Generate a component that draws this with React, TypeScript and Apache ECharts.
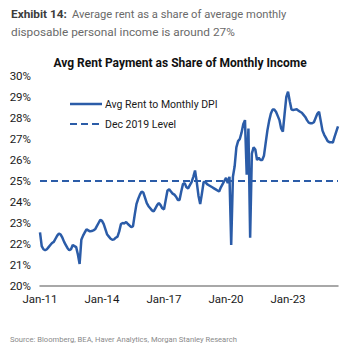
import React, { useEffect, useRef } from "react";
import * as echarts from "echarts";

// Monthly values, Jan-2011 .. Jun-2025 (percent)
const rentToDpi: number[] = [
  // 2011
  22.55, 21.9, 21.75, 21.7, 21.75, 21.85, 21.95, 22.05, 22.1, 22.25, 22.4, 22.5,
  // 2012
  22.45, 22.3, 22.1, 21.95, 21.8, 21.7, 21.75, 21.95, 21.9, 21.85, 21.5, 21.05,
  // 2013
  22.2, 22.4, 22.55, 22.7, 22.65, 22.6, 22.62, 22.65, 22.7, 22.85, 23.0, 23.15,
  // 2014
  23.1, 22.95, 22.7, 22.45, 22.35, 22.25, 22.2, 22.22, 22.3, 22.35, 22.6, 22.95,
  // 2015
  23.0, 22.98, 23.05, 22.95, 22.88, 22.8, 22.85, 23.4, 23.9, 24.15, 24.35, 24.5,
  // 2016
  24.45, 24.2, 23.95, 23.8, 23.7, 23.6, 23.55, 23.7, 23.85, 23.95, 23.85, 23.7,
  // 2017
  23.65, 24.1, 24.55, 24.6, 24.5, 24.4, 24.35, 24.25, 24.1, 24.1, 24.5, 24.85,
  // 2018
  24.9, 24.7, 24.65, 24.8, 24.95, 25.2, 25.5, 24.95, 24.3, 23.9, 24.4, 24.95,
  // 2019
  24.95, 24.85, 24.8, 24.75, 24.7, 24.65, 24.6, 24.55, 24.5, 24.7, 24.85, 25.0,
  // 2020
  25.15, 24.9, 25.2, 21.95, 25.2, 25.7, 26.6, 26.9, 27.0, 27.3, 27.7, 27.9,
  // 2021
  25.3, 27.5, 22.3, 26.3, 26.6, 26.5, 26.0, 26.1, 26.0, 26.0, 26.2, 26.8,
  // 2022
  27.4, 27.85, 28.2, 28.4, 28.4, 28.3, 28.1, 27.9, 27.5, 27.35, 28.2, 29.0,
  // 2023
  29.25, 28.8, 28.4, 28.38, 28.4, 28.42, 28.35, 28.3, 28.25, 28.15, 28.05, 27.9,
  // 2024
  27.78, 27.75, 27.75, 27.8, 28.0, 28.2, 28.3, 27.85, 27.4, 27.2, 27.05, 26.9,
  // 2025
  26.85, 26.85, 26.83, 27.1, 27.35, 27.6,
];

const dec2019Level = 25.0;
const startYear = 2011;
const monthNames = ["Jan", "Feb", "Mar", "Apr", "May", "Jun", "Jul", "Aug", "Sep", "Oct", "Nov", "Dec"];
const months: string[] = rentToDpi.map((_, i) => {
  const y = startYear + Math.floor(i / 12);
  return `${monthNames[i % 12]}-${String(y).slice(2)}`;
});
const tickEvery = 36;
const seriesNames = ["Avg Rent to Monthly DPI", "Dec 2019 Level"];

const BLUE = "#2b5ca8";
const FONT = "Roboto, sans-serif";

export default function App() {
  const ref = useRef<HTMLDivElement>(null);
  useEffect(() => {
    if (!ref.current) return;
    const chart = echarts.init(ref.current, undefined, { renderer: "svg" });
    chart.setOption({
      animation: false,
      backgroundColor: "#ffffff",
      grid: { left: 40, right: 14, top: 76, bottom: 68, containLabel: false },
      xAxis: {
        type: "category",
        data: months,
        boundaryGap: false,
        axisLine: { lineStyle: { color: "#8c8c8c", width: 1.5 } },
        axisTick: { show: false },
        axisLabel: {
          interval: (i: number) => i % tickEvery === 0,
          color: "#1a1a1a",
          fontSize: 11.5,
          fontFamily: FONT,
          margin: 7,
        },
        splitLine: { show: false },
      },
      yAxis: {
        type: "value",
        min: 20,
        max: 30,
        interval: 1,
        axisLine: { show: false },
        axisTick: { show: false },
        splitLine: { show: false },
        axisLabel: {
          formatter: "{value}%",
          color: "#1a1a1a",
          fontSize: 11.5,
          fontFamily: FONT,
          margin: 9,
        },
      },
      series: [
        {
          name: seriesNames[0],
          type: "line",
          data: rentToDpi,
          showSymbol: false,
          symbol: "none",
          lineStyle: { color: BLUE, width: 2.5 },
          z: 3,
        },
        {
          name: seriesNames[1],
          type: "line",
          data: rentToDpi.map(() => dec2019Level),
          showSymbol: false,
          symbol: "none",
          lineStyle: { color: BLUE, width: 2, type: [7, 4] },
          z: 2,
        },
      ],
      graphic: [
        {
          type: "text",
          x: 11,
          y: 14,
          style: {
            text: "Exhibit 14:",
            fontWeight: "bold",
            fill: "#3c3c3c",
            fontSize: 11.8,
            fontFamily: FONT,
            verticalAlign: "middle",
          },
        },
        {
          type: "text",
          x: 72,
          y: 14,
          style: {
            text: "Average rent as a share of average monthly",
            fill: "#6a6a6a",
            fontSize: 11.2,
            fontFamily: FONT,
            verticalAlign: "middle",
          },
        },
        {
          type: "text",
          x: 11,
          y: 32,
          style: {
            text: "disposable personal income is around 27%",
            fill: "#6a6a6a",
            fontSize: 11.8,
            fontFamily: FONT,
            verticalAlign: "middle",
          },
        },
        {
          type: "text",
          x: 180,
          y: 63,
          style: {
            text: "Avg Rent Payment as Share of Monthly Income",
            fontWeight: "bold",
            fontSize: 12,
            fill: "#111",
            fontFamily: FONT,
            align: "center",
            verticalAlign: "middle",
          },
        },
        {
          type: "line",
          shape: { x1: 70, y1: 104, x2: 102, y2: 104 },
          style: { stroke: BLUE, lineWidth: 2.5 },
        },
        {
          type: "text",
          x: 105,
          y: 104,
          style: {
            text: seriesNames[0],
            fontSize: 10.5,
            fill: "#1a1a1a",
            fontFamily: FONT,
            verticalAlign: "middle",
          },
        },
        {
          type: "line",
          shape: { x1: 70, y1: 124, x2: 102, y2: 124 },
          style: { stroke: BLUE, lineWidth: 2, lineDash: [7, 4] },
        },
        {
          type: "text",
          x: 105,
          y: 124,
          style: {
            text: seriesNames[1],
            fontSize: 10.5,
            fill: "#1a1a1a",
            fontFamily: FONT,
            verticalAlign: "middle",
          },
        },
        {
          type: "text",
          left: 10,
          top: 335,
          style: {
            text: "Source: Bloomberg, BEA, Haver Analytics, Morgan Stanley Research",
            fontSize: 7.6,
            fill: "#8a8a8a",
            fontFamily: FONT,
          },
        },
      ],
    });
    return () => chart.dispose();
  }, []);
  return <div ref={ref} style={{ width: 352, height: 354, position: "absolute", left: 0, top: 0 }} />;
}
